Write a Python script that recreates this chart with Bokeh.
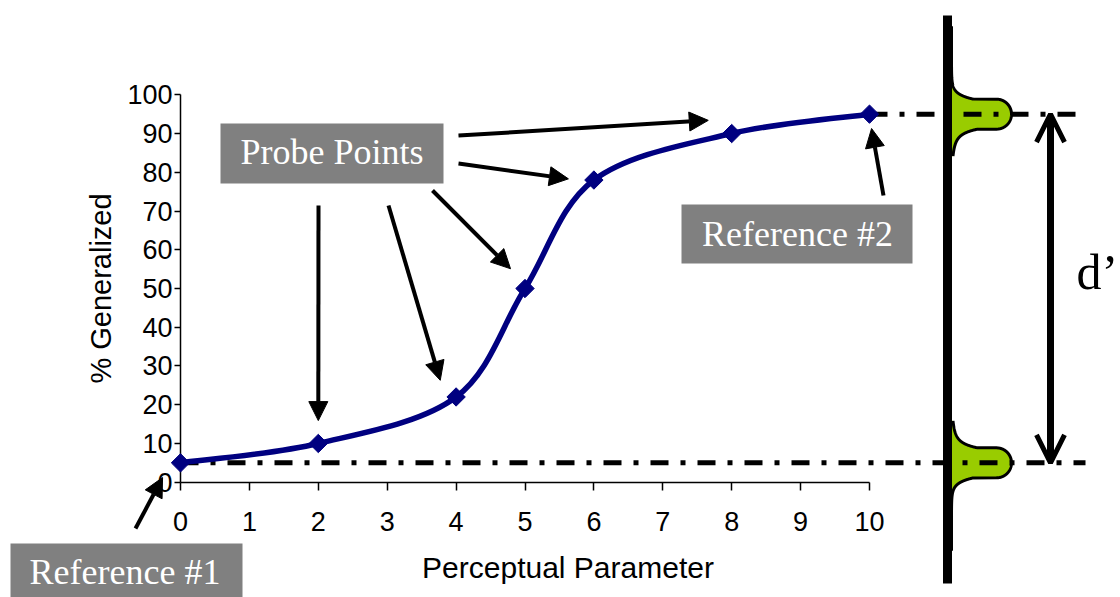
import numpy as np
from bokeh.plotting import figure
from bokeh.models import Range1d, FixedTicker, Arrow, NormalHead, OpenHead, Label
from bokeh.embed import file_html
from bokeh.resources import INLINE

# ---- generalization gradient ----
param = [0, 2, 4, 5, 6, 8, 10]
generalized = [5, 10, 22, 50, 78, 90, 95]
x_ticks = list(range(0, 11))
y_ticks = list(range(0, 101, 10))
ref_low = 5     # Reference #1 level
ref_high = 95   # Reference #2 level

W, H = 1120, 597
# screen placement of the axes box: x 0..10 and y 0..100
X0, X10 = 180.0, 869.0
Y0, Y100 = 481.7, 94.3
kx = (X10 - X0) / 10.0
ky = (Y0 - Y100) / 100.0


def dx(px):
    return (px - X0) / kx


def dy(py):
    return (Y0 - py) / ky


def text_y(baseline_px, font_px):
    # Label anchor for a given alphabetic baseline (screen px)
    return dy(baseline_px - 0.35 * font_px)


p = figure(width=W, height=H, x_range=Range1d(dx(0), dx(W)), y_range=Range1d(dy(H), dy(0)),
           output_backend="svg", toolbar_location=None, min_border=0)
p.outline_line_color = None
p.grid.visible = False
p.background_fill_color = "white"
p.border_fill_color = "white"

SANS = "Liberation Sans"
for ax in (p.xaxis, p.yaxis):
    ax.fixed_location = 0
    ax.major_tick_in = 0
    ax.minor_tick_line_color = None
    ax.axis_line_width = 1.5
    ax.axis_line_color = "black"
    ax.major_tick_line_width = 1.5
    ax.major_tick_line_color = "black"
    ax.major_label_text_font = SANS
    ax.major_label_text_font_size = "27px"
    ax.major_label_text_color = "black"

p.xaxis.bounds = (0, 10)
p.xaxis.ticker = FixedTicker(ticks=x_ticks)
p.xaxis.major_tick_out = 8
p.xaxis.major_label_standoff = 22

p.yaxis.bounds = (0, 100)
p.yaxis.ticker = FixedTicker(ticks=y_ticks)
p.yaxis.major_tick_out = 6
p.yaxis.major_label_standoff = 2
p.yaxis.axis_label = "% Generalized"
p.yaxis.axis_label_text_font = SANS
p.yaxis.axis_label_text_font_size = "29px"
p.yaxis.axis_label_text_font_style = "normal"
p.yaxis.axis_label_text_color = "black"
p.yaxis.axis_label_standoff = 7

p.add_layout(Label(x=dx(567.5), y=text_y(577, 30), text="Perceptual Parameter", text_font=SANS,
                   text_font_size="30px", text_align="center", text_baseline="alphabetic",
                   text_color="black"))

# ---- response distributions beside the scale bar ----
GREEN = "#99CC00"
BAR_X = 947.0
BASE_X = 951.0


def bump_profile(s):
    s = np.asarray(s, float)
    w = np.zeros_like(s)
    core = np.abs(s) <= 15
    w[core] = 45 + np.sqrt(225 - s[core] ** 2)
    lt = s > 15
    w[lt] = 22 * np.exp(-(s[lt] - 15) / 5)
    st = s < -15
    a = -s[st] - 15
    w[st] = 16 * np.exp(-a / 4) + 10 * np.exp(-a / 14)
    return w


s = np.linspace(-42, 88, 1301)
w = bump_profile(s)
for level, direction in ((ref_high, 1), (ref_low, -1)):
    cx = dx(BASE_X + w)
    cy = level + direction * s / ky
    p.patch(np.concatenate([[dx(BAR_X)], cx, [dx(BAR_X)]]),
            np.concatenate([[cy[0]], cy, [cy[-1]]]),
            fill_color=GREEN, line_color=None)
    p.line(cx, cy, line_color="black", line_width=3)

# vertical scale bar
p.segment(x0=[dx(BAR_X)], y0=[dy(15)], x1=[dx(BAR_X)], y1=[dy(583)],
          line_color="black", line_width=9)

# reference levels
DASH = "18 12 5 12"
p.line([0, dx(1085)], [ref_low, ref_low], line_color="black", line_width=5, line_dash=DASH)
p.line([param[-1], dx(1085)], [ref_high, ref_high], line_color="black", line_width=5, line_dash=DASH)

# ---- smoothed curve (cubic Bezier segments with Catmull-Rom tangents) ----
xs = np.asarray(param, float)
ys = np.asarray(generalized, float)
padx = np.concatenate([[xs[0]], xs, [xs[-1]]])
pady = np.concatenate([[ys[0]], ys, [ys[-1]]])
cx0 = xs[:-1] + (xs[1:] - padx[:-3]) / 6
cy0 = ys[:-1] + (ys[1:] - pady[:-3]) / 6
cx1 = xs[1:] - (padx[3:] - xs[:-1]) / 6
cy1 = ys[1:] - (pady[3:] - ys[:-1]) / 6
NAVY = "#000080"
p.bezier(x0=xs[:-1], y0=ys[:-1], x1=xs[1:], y1=ys[1:], cx0=cx0, cy0=cy0, cx1=cx1, cy1=cy1,
         line_color=NAVY, line_width=5.5, line_cap="round")
p.scatter(param, generalized, marker="square", angle=np.pi / 4, size=13,
          fill_color=NAVY, line_color=NAVY, level="annotation")

# ---- callout boxes ----
BOX = "#808080"
SERIF = "Liberation Serif"
BOX_FONT = 36
boxes = [
    ("Probe Points", 220, 443, 123, 183, 331.5, 164),
    ("Reference #1", 10, 242, 543, 600, 124.5, 584),
    ("Reference #2", 681, 912, 204, 263, 797, 246),
]
for txt, l, r, t, b, tx, ty in boxes:
    p.quad(left=[dx(l)], right=[dx(r)], top=[dy(t)], bottom=[dy(b)],
           fill_color=BOX, line_color=None)
    p.add_layout(Label(x=dx(tx), y=text_y(ty, BOX_FONT), text=txt, text_font=SERIF,
                       text_font_size=f"{BOX_FONT}px", text_color="white",
                       text_align="center", text_baseline="alphabetic"))

p.add_layout(Label(x=dx(1076), y=text_y(289, 50), text="d\u2019", text_font=SERIF,
                   text_font_size="50px", text_color="black", text_baseline="alphabetic"))

# ---- pointer arrows ----
def pointer(x0, y0, x1, y1):
    p.add_layout(Arrow(x_start=x0, y_start=y0, x_end=x1, y_end=y1, line_width=4,
                       line_color="black",
                       end=NormalHead(size=19, fill_color="black", line_color="black")))


pointer(dx(318), dy(205), param[1], generalized[1] + 5.9)
pointer(dx(388), dy(205), param[2] - 0.23, generalized[2] + 4.3)
pointer(dx(432), dy(190), param[3] - 0.21, generalized[3] + 5.1)
pointer(dx(458), dy(163), param[4] - 0.37, generalized[4] + 0.3)
pointer(dx(458), dy(135), param[5] - 0.34, generalized[5] + 3.4)
pointer(dx(883), dy(195), param[6] + 0.03, generalized[6] - 3.7)
pointer(dx(135), dy(528), param[0] - 0.26, ref_low - 3.8)

# d' separation between the two reference levels
XD = dx(1050)
p.add_layout(Arrow(x_start=XD, y_start=ref_low, x_end=XD, y_end=ref_high, line_width=7,
                   line_color="black",
                   start=OpenHead(size=28, line_width=5, line_color="black"),
                   end=OpenHead(size=28, line_width=5, line_color="black")))

open("out.html", "w").write(file_html(p, INLINE))
